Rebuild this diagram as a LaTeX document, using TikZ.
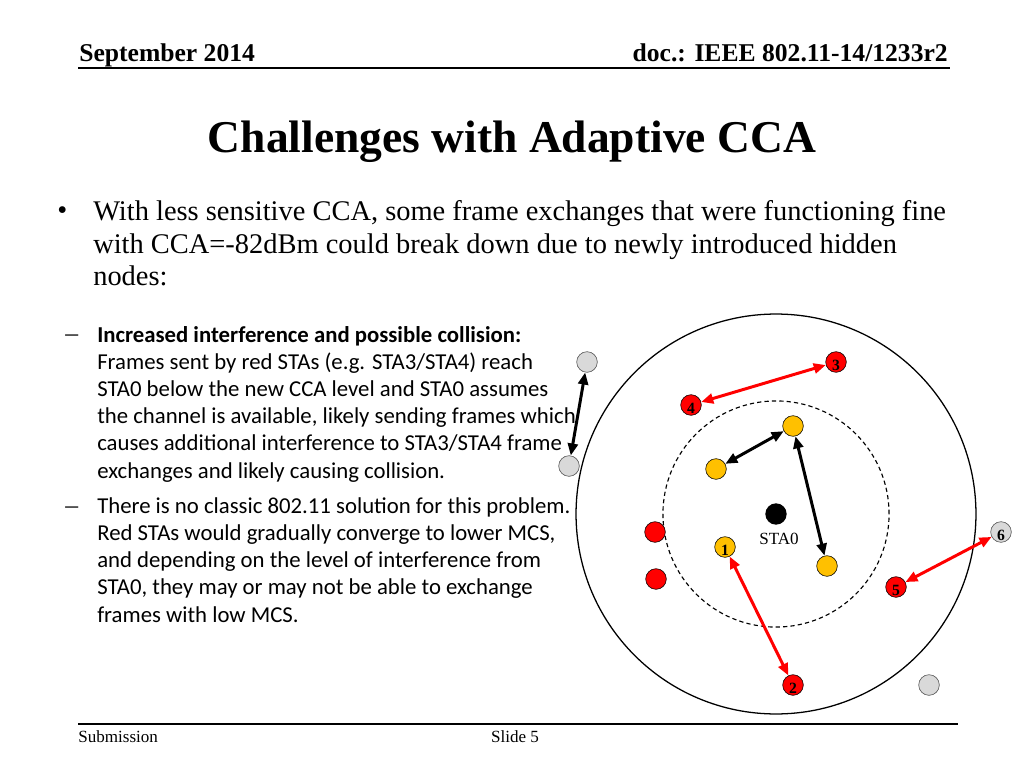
\documentclass[tikz,border=0pt]{standalone}
\usepackage{fontspec}
\setmainfont{Liberation Serif}
\newfontfamily\calibri{Carlito}
\usetikzlibrary{arrows.meta}
\definecolor{STARed}{HTML}{FF0000}
\definecolor{STAYellow}{HTML}{FFC000}
\definecolor{STAGray}{HTML}{D9D9D9}

\begin{document}
\begin{tikzpicture}[
    x=0.703125pt, y=-0.703125pt,
    txt/.style={inner sep=0pt,anchor=base west,align=left},
    sta/.style={circle,draw,thin,minimum size=14.5pt,inner sep=0pt,text height=11.4pt,text depth=0pt,font=\bfseries\fontsize{11}{11}\selectfont},
    redsta/.style={sta,fill=STARed},
    yelsta/.style={sta,fill=STAYellow},
    graysta/.style={sta,draw=black!70,fill=STAGray},
    link/.style={{Triangle[length=8.5pt,width=7pt]}-{Triangle[length=8.5pt,width=7pt]},line width=2.1pt},
    redlink/.style={link,STARed}
  ]
    \useasboundingbox (0,0) rectangle (1024,768);
    \node[txt,font=\bfseries\fontsize{18}{18}\selectfont] (date) at (79,62) {September 2014};
    \node[txt,anchor=base east,font=\bfseries\fontsize{18}{18}\selectfont] (docnum) at (948,62) {doc.: IEEE 802.11-14/1233r2};
    \draw[line width=1.5pt] (78,68) -- (950,68);
    \node[anchor=base,inner sep=0pt,font=\bfseries\fontsize{32}{32}\selectfont] (title) at (512,153) {Challenges with Adaptive CCA};
    \node[txt,font=\fontsize{20}{23.2}\selectfont] (dot) at (57,220) {\textbullet};
    \node[txt,font=\fontsize{20}{23.2}\selectfont] (intro) at (93,286) {With less sensitive CCA, some frame exchanges that were functioning fine\\with CCA=-82dBm could break down due to newly introduced hidden\\nodes:};
    \node[txt,font=\fontsize{18}{19.1}\selectfont] (dashA) at (65,342) {–};
    \node[txt,font=\calibri\fontsize{16}{19.1}\selectfont] (itemA) at (97,478) {\textbf{Increased interference and possible collision:}\\Frames sent by red STAs (e.g. STA3/STA4) reach\\STA0 below the new CCA level and STA0 assumes\\the channel is available, likely sending frames which\\causes additional interference to STA3/STA4 frame\\exchanges and likely causing collision.};
    \node[txt,font=\fontsize{18}{19.1}\selectfont] (dashB) at (65,513) {–};
    \node[txt,font=\calibri\fontsize{16}{19.1}\selectfont] (itemB) at (97,622) {There is no classic 802.11 solution for this problem.\\Red STAs would gradually converge to lower MCS,\\and depending on the level of interference from\\STA0, they may or may not be able to exchange\\frames with low MCS.};
    \draw[line width=1.5pt] (78,724) -- (958,724);
    \node[txt,font=\fontsize{12}{12}\selectfont] (submission) at (78,742) {Submission};
    \node[anchor=base,inner sep=0pt,font=\fontsize{12}{12}\selectfont] (slide) at (515,742) {Slide 5};
    \node[circle,fill=black,minimum size=15pt,inner sep=0pt] (sta0) at (776,514) {};
    \draw[line width=0.9pt] (sta0.center) circle[radius=140.6pt];
    \draw[line width=0.8pt,dash pattern=on 3pt off 2.2pt] (sta0.center) circle[radius=79.5pt];
    \node[anchor=base,inner sep=0pt,font=\fontsize{12}{12}\selectfont] (sta0label) at (779,544) {STA0};
    \node[graysta] (gA) at (587,362) {};
    \node[graysta] (gB) at (569,466) {};
    \node[redsta] (s3) at (836,362) {3};
    \node[redsta] (s4) at (691,405) {4};
    \node[yelsta] (yA) at (793,426) {};
    \node[yelsta] (yB) at (716,469) {};
    \node[redsta] (rA) at (655,532) {};
    \node[redsta] (rB) at (656,579) {};
    \node[yelsta] (s1) at (725,547) {1};
    \node[yelsta] (yC) at (827,566) {};
    \node[redsta] (s5) at (896,587) {5};
    \node[graysta] (s6) at (1001,532) {6};
    \node[redsta] (s2) at (793,685) {2};
    \node[graysta] (gC) at (929,685) {};
    \draw[link] (gA) -- (gB);
    \draw[redlink] (s3) -- (s4);
    \draw[link] (yB) -- (yA);
    \draw[link] (yA) -- (yC);
    \draw[redlink] (s1) -- (s2);
    \draw[redlink] (s5) -- (s6);
\end{tikzpicture}
\end{document}
